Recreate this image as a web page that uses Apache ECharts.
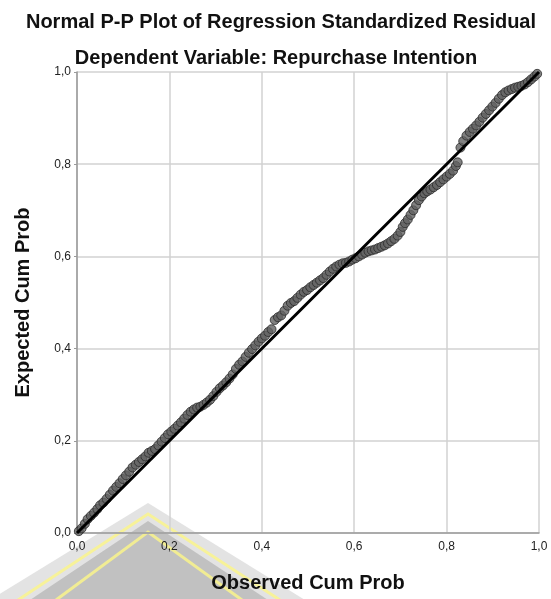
<!DOCTYPE html>
<html>
<head>
<meta charset="utf-8">
<script src="https://cdn.jsdelivr.net/npm/echarts@6/dist/echarts.min.js"></script>
<style>
  html, body { margin: 0; padding: 0; background: #fff; }
  #chart { width: 551px; height: 599px; }
</style>
</head>
<body>
<div id="chart"></div>
<script>
  // observed cum prob / expected cum prob
  const observed = [
    0.004, 0.010, 0.017, 0.023, 0.030, 0.037, 0.044, 0.050, 0.057, 0.064,
    0.071, 0.078, 0.085, 0.092, 0.099, 0.106, 0.113, 0.120, 0.127, 0.134,
    0.141, 0.148, 0.155, 0.162, 0.169, 0.176, 0.183, 0.190, 0.197, 0.204,
    0.211, 0.218, 0.225, 0.232, 0.239, 0.246, 0.253, 0.260, 0.267, 0.274,
    0.281, 0.288, 0.295, 0.302, 0.309, 0.316, 0.323, 0.330, 0.337, 0.344,
    0.351, 0.358, 0.365, 0.372, 0.379, 0.386, 0.393, 0.400, 0.407, 0.414,
    0.421, 0.428, 0.435, 0.442, 0.449, 0.456, 0.463, 0.470, 0.477, 0.484,
    0.491, 0.498, 0.505, 0.512, 0.519, 0.526, 0.533, 0.540, 0.547, 0.554,
    0.561, 0.568, 0.575, 0.582, 0.589, 0.596, 0.603, 0.610, 0.617, 0.624,
    0.631, 0.638, 0.645, 0.652, 0.659, 0.666, 0.673, 0.680, 0.687, 0.694,
    0.700, 0.705, 0.710, 0.716, 0.722, 0.728, 0.734, 0.740, 0.746, 0.752,
    0.758, 0.765, 0.772, 0.779, 0.786, 0.793, 0.800, 0.807, 0.814, 0.820,
    0.824, 0.830, 0.836, 0.843, 0.850, 0.857, 0.864, 0.871, 0.878, 0.885,
    0.892, 0.899, 0.906, 0.913, 0.920, 0.927, 0.934, 0.941, 0.948, 0.955,
    0.962, 0.969, 0.976, 0.983, 0.990, 0.996
  ];
  const expected = [
    0.004, 0.010, 0.020, 0.030, 0.037, 0.044, 0.052, 0.060, 0.066, 0.074,
    0.083, 0.092, 0.100, 0.108, 0.117, 0.125, 0.133, 0.142, 0.148, 0.154,
    0.160, 0.166, 0.174, 0.178, 0.182, 0.190, 0.198, 0.206, 0.214, 0.220,
    0.226, 0.233, 0.240, 0.248, 0.256, 0.263, 0.268, 0.272, 0.274, 0.278,
    0.283, 0.289, 0.297, 0.306, 0.314, 0.320, 0.327, 0.335, 0.344, 0.356,
    0.365, 0.372, 0.382, 0.391, 0.399, 0.407, 0.415, 0.422, 0.428, 0.436,
    0.442, 0.462, 0.468, 0.472, 0.482, 0.493, 0.499, 0.503, 0.510, 0.517,
    0.523, 0.527, 0.533, 0.538, 0.543, 0.548, 0.553, 0.560, 0.567, 0.573,
    0.578, 0.582, 0.585, 0.586, 0.589, 0.593, 0.596, 0.600, 0.604, 0.608,
    0.611, 0.613, 0.615, 0.618, 0.621, 0.624, 0.628, 0.633, 0.638, 0.645,
    0.653, 0.664, 0.672, 0.680, 0.690, 0.700, 0.711, 0.722, 0.730, 0.737,
    0.741, 0.745, 0.750, 0.755, 0.761, 0.767, 0.773, 0.779, 0.786, 0.796,
    0.804, 0.836, 0.850, 0.862, 0.870, 0.877, 0.884, 0.892, 0.901, 0.909,
    0.917, 0.925, 0.933, 0.942, 0.950, 0.956, 0.960, 0.963, 0.966, 0.968,
    0.970, 0.973, 0.978, 0.984, 0.990, 0.996
  ];
  const diagonal = [[0, 0], [1, 1]];

  const points = observed.map((x, i) => [x, expected[i]]);
  const fmt = (v) => v.toFixed(1).replace('.', ',');
  const font = 'Liberation Sans, Arial, sans-serif';

  const chart = echarts.init(document.getElementById('chart'));
  chart.setOption({
    animation: false,
    title: [
      {
        text: 'Normal P-P Plot of Regression Standardized Residual',
        left: 276, top: 7, textAlign: 'center',
        textStyle: { fontFamily: font, fontSize: 20, fontWeight: 'bold', color: '#111' }
      },
      {
        text: 'Dependent Variable: Repurchase Intention',
        left: 271, top: 43, textAlign: 'center',
        textStyle: { fontFamily: font, fontSize: 20, fontWeight: 'bold', color: '#111' }
      }
    ],
    graphic: [
      // faded logo watermark along the bottom
      { type: 'polygon', z: -1, silent: true,
        shape: { points: [[148, 503], [-10, 600], [305, 600]] },
        style: { fill: 'rgba(200,200,200,0.5)' } },
      { type: 'polyline', z: -1, silent: true,
        shape: { points: [[18, 600], [148, 514], [280, 600]] },
        style: { stroke: 'rgba(250,245,140,0.85)', lineWidth: 3, fill: null } },
      { type: 'polygon', z: -1, silent: true,
        shape: { points: [[148, 521], [30, 600], [268, 600]] },
        style: { fill: 'rgba(175,175,175,0.65)' } },
      { type: 'polyline', z: -1, silent: true,
        shape: { points: [[56, 600], [148, 532], [242, 600]] },
        style: { stroke: 'rgba(250,245,140,0.85)', lineWidth: 3, fill: null } }
    ],
    grid: { left: 77, right: 12, top: 72, bottom: 66 },
    xAxis: {
      type: 'value', min: 0, max: 1, interval: 0.2,
      name: 'Observed Cum Prob', nameLocation: 'middle', nameGap: 40,
      nameTextStyle: { fontFamily: font, fontSize: 20, fontWeight: 'bold', color: '#111' },
      axisLine: { show: true, lineStyle: { color: '#9a9a9a', width: 1.5 } },
      axisTick: { show: false },
      axisLabel: { formatter: fmt, fontFamily: font, fontSize: 12, color: '#222', margin: 8 },
      splitLine: { show: true, lineStyle: { color: '#d2d2d2', width: 1.5 } }
    },
    yAxis: {
      type: 'value', min: 0, max: 1, interval: 0.2,
      name: 'Expected Cum Prob', nameLocation: 'middle', nameGap: 44,
      nameTextStyle: { fontFamily: font, fontSize: 20, fontWeight: 'bold', color: '#111' },
      axisLine: { show: true, lineStyle: { color: '#9a9a9a', width: 1.5 } },
      axisTick: { show: true, length: 3, lineStyle: { color: '#9a9a9a' } },
      axisLabel: { formatter: fmt, fontFamily: font, fontSize: 12, color: '#222', margin: 6 },
      splitLine: { show: true, lineStyle: { color: '#d2d2d2', width: 1.5 } }
    },
    series: [
      {
        type: 'scatter', data: points, symbolSize: 9, z: 2,
        itemStyle: { color: '#616161', borderColor: '#2b2b2b', borderWidth: 1 }
      },
      {
        type: 'line', data: diagonal, showSymbol: false, z: 3,
        lineStyle: { color: '#000', width: 3 }
      }
    ]
  });
</script>
</body>
</html>
